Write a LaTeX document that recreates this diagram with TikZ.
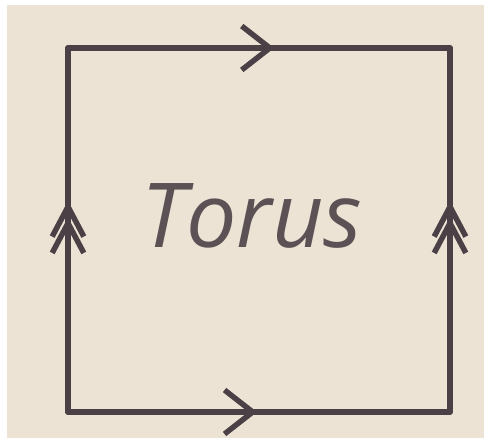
\documentclass[tikz,border=0pt]{standalone}
\usepackage{fontspec}
\setsansfont{Open Sans}
\usetikzlibrary{arrows.meta,decorations.markings}

\definecolor{paper}{RGB}{236,227,212}
\definecolor{ink}{RGB}{74,64,70}
\definecolor{print}{RGB}{92,82,86}

\begin{document}
\begin{tikzpicture}[
      x=0.02cm, y=-0.02cm,
      edge/.style={draw=ink, line width=3.1pt, line cap=round, line join=round},
      single/.style={postaction={decorate, decoration={markings,
        mark=at position #1 with {\arrow[ink, line width=3.1pt]{Straight Barb[length=16pt, width=25pt]}}}}},
      double/.style 2 args={postaction={decorate, decoration={markings,
        mark=at position #1 with {\arrow[ink, line width=3.1pt]{Straight Barb[length=17pt, width=18pt]}},
        mark=at position #2 with {\arrow[ink, line width=3.1pt]{Straight Barb[length=17pt, width=18pt]}}}}}
    ]

    % paper and margins
    \useasboundingbox (0,0) rectangle (484,438);
    \fill[white] (0,0) rectangle (484,438);
    \fill[paper] (7,5) rectangle (484,438);

    % corners of the square
    \coordinate (nw) at (68,48);
    \coordinate (ne) at (450,48);
    \coordinate (se) at (450,412);
    \coordinate (sw) at (68,412);

    % edges, glued pairwise
    \draw[edge, single=0.54] (nw) -- (ne);
    \draw[edge, single=0.495] (sw) -- (se);
    \draw[edge, double={0.535}{0.58}] (sw) -- (nw);
    \draw[edge, double={0.535}{0.58}] (se) -- (ne);

    \node[text=print, font=\fontsize{51}{51}\selectfont\sffamily\itshape] (label) at (252,216) {Torus};

\end{tikzpicture}
\end{document}
